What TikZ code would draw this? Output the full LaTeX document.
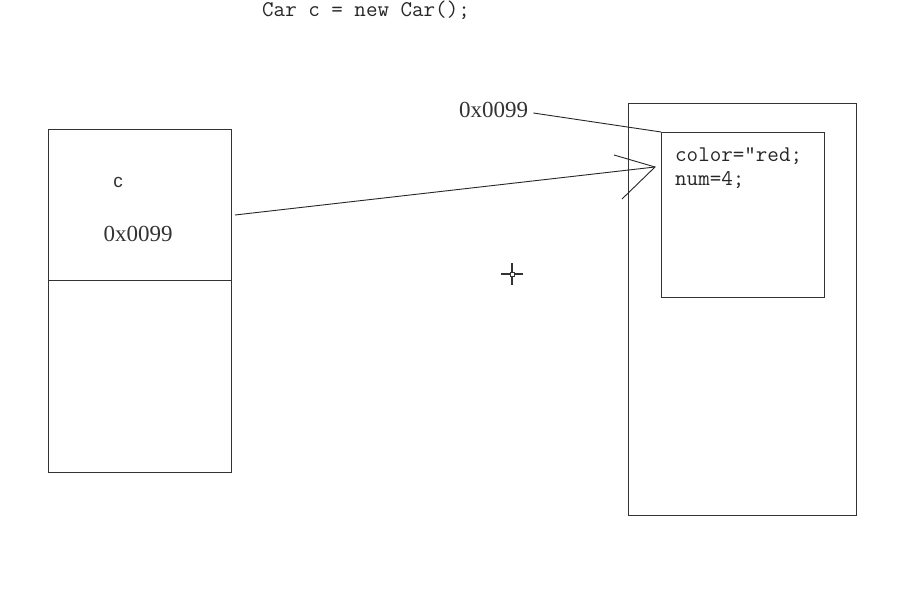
\documentclass[tikz,border=0pt]{standalone}
\usepackage{fontspec}
\setmainfont{Liberation Serif}
\newfontfamily\sansf{Liberation Sans}
\begin{document}
\begin{tikzpicture}[x=1pt,y=-1pt,
  box/.style={draw=black!80,line width=1pt},
  ln/.style={draw=black!85,line width=0.9pt},
  code/.style={font=\fontsize{22.4}{24}\selectfont\ttfamily,text=black!85,inner sep=0pt},
  addr/.style={font=\fontsize{23}{25}\selectfont,text=black!80,inner sep=0pt}]
\useasboundingbox (0,0) rectangle (918,602);
\node[code,anchor=west] (title) at (262,10) {Car c = new Car();};
% left stack box
\draw[box] (48,129) rectangle (231,472);
\coordinate (divl) at (48,280);
\coordinate (divr) at (231,280);
\draw[box] (divl) -- (divr);
\node[font=\fontsize{19}{21}\selectfont\sansf,text=black!80,inner sep=0pt] (cvar) at (118,182) {c};
\node[addr] (addrL) at (138,234) {0x0099};
% right heap box
\draw[box] (628,103) rectangle (856,515);
\node[box,minimum width=163pt,minimum height=165pt,anchor=north west,inner sep=0pt] (obj) at (661,132) {};
\node[code,anchor=north west,align=left] (fields) at (675,147) {color=”red;\\num=4;};
\node[addr,anchor=west] (addrR) at (459,110) {0x0099};
\draw[ln] (addrR.east) ++(5,3) -- (obj.north west);
% arrow
\coordinate (from) at (235,215);
\coordinate (tip) at (655,167);
\coordinate (h1) at (614,155);
\coordinate (h2) at (622,199);
\draw[ln] (from) -- (tip);
\draw[ln] (h1) -- (tip) -- (h2);
% cursor
\coordinate (cur) at (512,274);
\draw[black!80,line width=1.2pt] (cur) ++(-11,0) -- ++(22,0);
\draw[black!80,line width=1.2pt] (cur) ++(0,-11) -- ++(0,22);
\draw[black!80,line width=0.8pt,fill=white] (cur) ++(-2,-2) rectangle ++(4,4);
\end{tikzpicture}
\end{document}
